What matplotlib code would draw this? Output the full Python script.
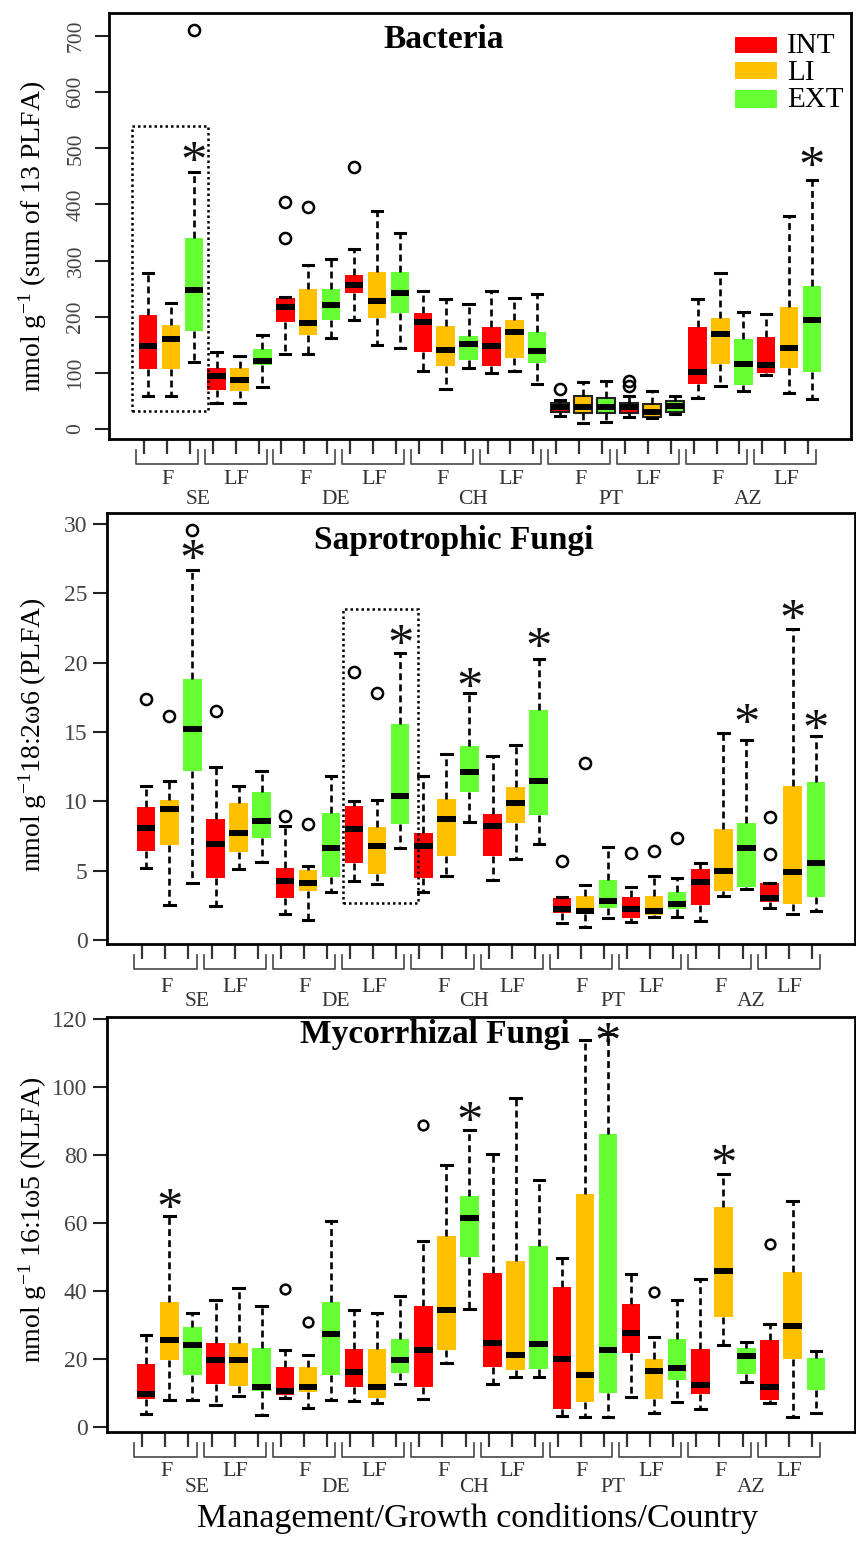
import numpy as np
import matplotlib
matplotlib.use("Agg")
import matplotlib.pyplot as plt
from matplotlib.transforms import blended_transform_factory
from matplotlib.patches import Rectangle

plt.rcParams['font.family'] = ['Liberation Serif', 'DejaVu Serif']
plt.rcParams['mathtext.fontset'] = 'custom'
plt.rcParams['mathtext.rm'] = 'Liberation Serif'
plt.rcParams['mathtext.it'] = 'Liberation Serif:italic'
plt.rcParams['mathtext.bf'] = 'Liberation Serif:bold'

# ---------------- data ----------------
countries = ["SE", "DE", "CH", "PT", "AZ"]
managements = ["F", "LF"]
intensities = ["INT", "LI", "EXT"]
int_colors = ["#FF0000", "#FFC000", "#66FF33"]

# Bacteria (nmol g-1, sum of 13 PLFA) -- order: country > management > intensity
bac_whislo = [59, 59, 120, 46, 46, 75, 133, 133, 162, 194, 150, 145, 103, 71, 109, 100, 103, 80,
              23, 11, 13, 22, 19, 26, 56, 77, 68, 97, 65, 53]
bac_q1 = [106, 106, 175, 69, 68, 114, 191, 167, 194, 242, 197, 207, 138, 113, 123, 113, 127, 118,
          31, 29, 29, 29, 22, 31, 80, 115, 78, 100, 108, 101]
bac_med = [147, 160, 248, 94, 87, 122, 218, 188, 220, 257, 228, 243, 190, 141, 151, 147, 172, 139,
           39, 39, 40, 39, 31, 41, 101, 169, 116, 114, 145, 195]
bac_q3 = [203, 186, 341, 109, 108, 142, 234, 250, 250, 274, 280, 280, 206, 183, 166, 181, 195, 172,
          46, 59, 56, 46, 44, 49, 181, 198, 160, 163, 218, 255]
bac_whishi = [278, 224, 457, 138, 130, 167, 236, 292, 303, 321, 389, 350, 246, 231, 222, 246, 234, 240,
              52, 83, 86, 58, 68, 58, 232, 277, 209, 204, 379, 444]
bac_outliers = {2: [711], 6: [405, 341], 7: [396], 9: [466], 18: [71], 21: [86, 76]}
bac_signif = {3: 494, 30: 485}

# Saprotrophic fungi (nmol g-1 18:2w6, PLFA)
sap_whislo = [5.2, 2.5, 4.1, 2.45, 5.1, 5.65, 1.9, 1.44, 3.44, 4.25, 4.04, 6.66, 3.49, 4.64, 8.53,
              4.33, 5.84, 6.9, 1.25, 0.96, 1.56, 1.32, 1.68, 1.68, 1.39, 3.2, 3.65, 2.28, 1.85, 2.1]
sap_q1 = [6.44, 6.85, 12.2, 4.45, 6.37, 7.38, 3.05, 3.56, 4.57, 5.58, 4.74, 8.4, 4.45, 6.06, 10.65,
          6.06, 8.41, 9.0, 1.97, 1.87, 2.28, 1.56, 1.8, 2.2, 2.52, 3.56, 3.85, 2.76, 2.57, 3.13]
sap_med = [8.05, 9.45, 15.2, 6.9, 7.7, 8.58, 4.28, 4.1, 6.6, 7.98, 6.8, 10.4, 6.78, 8.7, 12.1,
           8.25, 9.9, 11.5, 2.2, 2.1, 2.81, 2.2, 2.1, 2.57, 4.16, 4.98, 6.61, 3.0, 4.88, 5.58]
sap_q3 = [9.6, 10.1, 18.8, 8.7, 9.86, 10.7, 5.2, 5.05, 9.13, 9.7, 8.17, 15.55, 7.7, 10.2, 14.0,
          9.1, 11.06, 16.6, 3.0, 3.17, 4.33, 3.08, 3.2, 3.49, 5.12, 8.0, 8.41, 4.09, 11.1, 11.4]
sap_whishi = [11.1, 11.5, 26.7, 12.5, 11.1, 12.2, 8.2, 5.34, 11.8, 10.0, 10.1, 20.7, 11.8, 13.4, 17.8,
              13.3, 14.1, 20.3, 3.1, 4.0, 6.73, 3.8, 4.6, 4.5, 5.53, 14.9, 14.4, 4.13, 22.4, 14.7]
sap_outliers = {0: [17.4], 1: [16.15], 2: [29.6], 3: [16.5], 6: [8.94], 7: [8.34], 9: [19.3],
                10: [17.8], 18: [5.72], 19: [12.8], 21: [6.3], 22: [6.4], 23: [7.33], 27: [8.9, 6.18]}
sap_signif = {3: 28.1, 12: 22.0, 15: 18.9, 18: 21.75, 27: 16.3, 29: 23.8, 30: 15.9}

# Mycorrhizal fungi (nmol g-1 16:1w5, NLFA)
myc_whislo = [3.9, 8.0, 8.0, 6.4, 9.1, 3.6, 8.5, 5.7, 8.0, 7.5, 6.9, 12.5, 8.1, 18.8, 34.6,
              12.7, 14.7, 14.7, 3.2, 2.9, 2.9, 8.8, 4.1, 7.2, 5.4, 24.2, 13.2, 6.9, 2.9, 4.1]
myc_q1 = [8.3, 19.6, 15.2, 12.7, 12.1, 10.6, 9.3, 10.3, 15.2, 11.8, 8.6, 16.0, 11.8, 22.7, 50.0,
          17.6, 16.7, 17.0, 5.4, 7.4, 10.1, 21.6, 8.1, 13.7, 9.8, 32.4, 15.7, 7.8, 20.1, 10.8]
myc_med = [9.8, 25.5, 24.0, 19.6, 19.6, 11.8, 10.6, 11.8, 27.2, 16.2, 11.8, 19.8, 22.5, 34.3, 61.6,
           24.8, 21.3, 24.5, 20.1, 15.4, 22.5, 27.6, 16.5, 17.2, 12.3, 45.8, 20.9, 11.8, 29.6, np.nan]
myc_q3 = [18.6, 36.8, 29.4, 24.8, 24.8, 23.2, 17.6, 17.6, 36.8, 22.8, 22.8, 26.0, 35.6, 56.1, 67.9,
          45.4, 48.8, 53.2, 41.2, 68.6, 86.1, 36.3, 20.1, 26.0, 22.8, 64.7, 23.2, 25.7, 45.6, 20.3]
myc_whishi = [27, 62, 33.6, 37.3, 40.9, 35.5, 22.5, 21.1, 60.5, 34.5, 33.6, 38.4, 54.7, 77.2, 87.5,
              80.2, 96.8, 72.7, 49.8, 113.9, 115.5, 45.1, 26.5, 37.3, 43.6, 74.5, 25.0, 30.4, 66.4, 22.3]
myc_outliers = {6: [40.7], 7: [30.9], 12: [88.7], 22: [39.7], 27: [53.9]}
myc_signif = {2: 67, 15: 92.6, 21: 116, 26: 79.9}

titles = ["Bacteria", "Saprotrophic Fungi", "Mycorrhizal Fungi"]
ylabels = ["nmol g$^{-1}$ (sum of 13 PLFA)",
           "nmol g$^{-1}$18:2\u03c96 (PLFA)",
           "nmol g$^{-1}$ 16:1\u03c95 (NLFA)"]
xlabel = "Management/Growth conditions/Country"

# ---------------- layout ----------------
W, H = 856, 1551
fig = plt.figure(figsize=(W / 100, H / 100), dpi=100)

# pixel boxes: left, right, top, bottom
boxes_px = [(109, 851, 13, 439), (107, 855, 513, 944), (107, 855, 1017, 1432)]
ylims = [(-17.8, 741), (-0.29, 30.8), (-1.5, 120.6)]
yticks = [np.arange(0, 701, 100), np.arange(0, 31, 5), np.arange(0, 121, 20)]
ylabel_y = [236, 735, 1220]
title_pos = [(13.9, 0.937), (14.3, 0.937), (13.5, 0.957)]
flier_ms = [8, 8, 7]
lab_off = [(41, 61), (43, 57), (40, 56)]

panels = [
    (bac_whislo, bac_q1, bac_med, bac_q3, bac_whishi, bac_outliers, bac_signif),
    (sap_whislo, sap_q1, sap_med, sap_q3, sap_whishi, sap_outliers, sap_signif),
    (myc_whislo, myc_q1, myc_med, myc_q3, myc_whishi, myc_outliers, myc_signif),
]

n = len(countries) * len(managements) * len(intensities)
positions = np.arange(1, n + 1)
ncol = len(intensities)
colors = [int_colors[i % ncol] for i in range(n)]

axes = []
for p, (wl, q1, md, q3, wh, outl, sig) in enumerate(panels):
    l, r, t, b = boxes_px[p]
    ax = fig.add_axes([l / W, 1 - b / H, (r - l) / W, (b - t) / H])
    axes.append(ax)
    ah = b - t
    stats = []
    for i in range(n):
        stats.append(dict(whislo=wl[i], q1=q1[i], med=md[i], q3=q3[i], whishi=wh[i],
                          fliers=outl.get(i, [])))
    res = ax.bxp(stats, positions=positions, widths=0.8, capwidths=0.45,
                 patch_artist=True, showfliers=True,
                 boxprops=dict(edgecolor='none', linewidth=0),
                 medianprops=dict(color='black', linewidth=4.3, solid_capstyle='butt'),
                 whiskerprops=dict(color='black', linewidth=1.9, linestyle=(0, (2.6, 1.6))),
                 capprops=dict(color='black', linewidth=2.2),
                 flierprops=dict(marker='o', markerfacecolor='none', markeredgecolor='black',
                                 markersize=flier_ms[p], markeredgewidth=1.8))
    for i, bx in enumerate(res['boxes']):
        bx.set_facecolor(colors[i])
        if p == 0 and countries[i // 6] == "PT":
            bx.set_edgecolor('#222222')
            bx.set_linewidth(1.5)
    ax.set_xlim(-0.7, n + 1.7)
    ax.set_ylim(*ylims[p])
    ax.set_yticks(yticks[p])
    ax.set_yticklabels([str(int(v)) for v in yticks[p]])
    for s in ax.spines.values():
        s.set_linewidth(2.0)
    ax.tick_params(axis='y', length=10, width=1.5, color='#222222', labelcolor='#444444',
                   labelsize=15.5 if p == 0 else 17, pad=7 if p == 0 else 4)
    if p == 0:
        for lab in ax.get_yticklabels():
            lab.set_rotation(90)
            lab.set_va('center')
    ax.set_xticks(positions - 0.17)
    ax.set_xticklabels([])
    ax.tick_params(axis='x', length=11, width=1.6, color='#333333')

    # significance asterisks
    for pos, yv in sig.items():
        ax.annotate("*", xy=(pos, yv), xytext=(0, -18), textcoords='offset points',
                    ha='center', va='baseline', fontsize=38, color='#111111')

    # title
    ax.text(title_pos[p][0], title_pos[p][1], titles[p], transform=blended_transform_factory(ax.transData, ax.transAxes),
            ha='center', va='center', fontsize=24, fontweight='bold')

    # brackets & group labels below axis
    tr = blended_transform_factory(ax.transData, ax.transAxes)
    y_top = -11 / ah
    y_bot = -25 / ah
    for g in range(len(countries) * len(managements)):
        x0 = positions[g * 3] - 0.17 - 0.35
        x1 = positions[g * 3 + 2] - 0.17 + 0.35
        ax.plot([x0, x0, x1, x1], [y_top, y_bot, y_bot, y_top], transform=tr, clip_on=False,
                color='#555555', lw=1.3)
        ax.text(positions[g * 3 + 1] - 0.13, -lab_off[p][0] / ah, managements[g % 2], transform=tr,
                ha='center', va='center', fontsize=16, color='#333333')
    for c, cn in enumerate(countries):
        ax.text(positions[c * 6] + 2.5 - 0.3, -lab_off[p][1] / ah, cn, transform=tr,
                ha='center', va='center', fontsize=15.5, color='#333333')

    fig.text(33 / W, 1 - ylabel_y[p] / H, ylabels[p], rotation=90, ha='center', va='center', fontsize=20)

# dotted highlight rectangles
axes[0].add_patch(Rectangle((0.30, 32), 3.32, 508, fill=False, linestyle=(0, (1, 1.2)), lw=1.8,
                            edgecolor='black', zorder=5))
axes[1].add_patch(Rectangle((9.52, 2.67), 3.23, 21.23, fill=False, linestyle=(0, (1, 1.2)), lw=1.8,
                            edgecolor='black', zorder=5))

# legend (drawn manually to mimic base-R legend)
ax0 = axes[0]
leg_rows = [(0.906, 0.9437, 0.906), (0.8451, 0.8850, 0.843), (0.777, 0.819, 0.779)]
for k, (y0, y1, yb) in enumerate(leg_rows):
    ax0.add_patch(Rectangle((0.8437, y0), 0.0566, y1 - y0, transform=ax0.transAxes,
                            facecolor=int_colors[k], edgecolor='none', clip_on=False))
    ax0.text(0.9137, yb, intensities[k], transform=ax0.transAxes, ha='left', va='baseline',
             fontsize=21)

fig.text(478 / W, 1 - 1518 / H, xlabel, ha='center', va='center', fontsize=24.5)

fig.savefig("out.png", dpi=100)
